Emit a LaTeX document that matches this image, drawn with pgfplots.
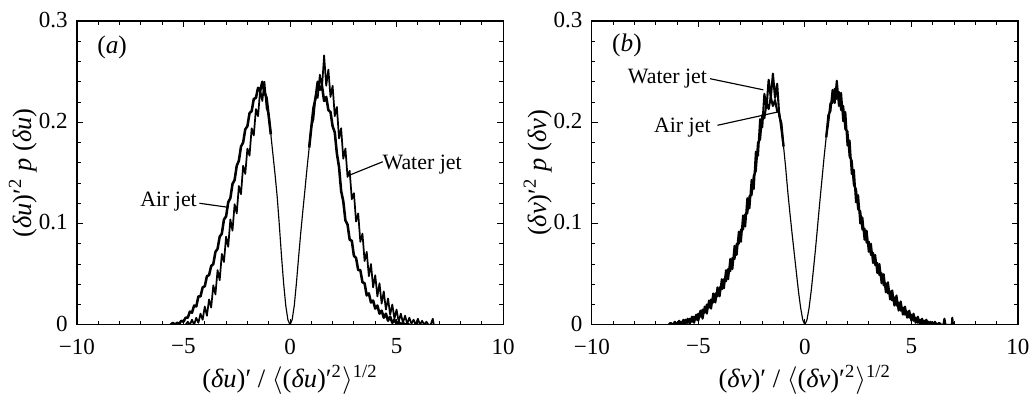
\documentclass[border=0pt]{standalone}
\usepackage{fontspec}
\setmainfont{Liberation Serif}
\usepackage{pgfplots}
\pgfplotsset{compat=1.18}
\pgfplotsset{panel/.style={at={(#1,30.4pt)}, anchor=south west, scale only axis,
  width=185pt, height=131.9pt, xmin=-10, xmax=10, ymin=0, ymax=0.3,
  xtick={-10,-5,0,5,10}, xticklabels={−10,−5,0,5,10},
  ytick={0,0.1,0.2,0.3}, yticklabels={0,0.1,0.2,0.3},
  minor x tick num=4, minor y tick num=4, tick align=inside, tick pos=both,
  major tick length=2.5pt, minor tick length=1.6pt,
  axis line style={line width=0.5pt},
  every tick/.style={black, line width=0.4pt},
  xticklabel style={yshift=-2.5pt},
  yticklabel style={xshift=-0.5pt, yshift=0.5pt},
  xlabel style={at={(axis description cs:0.5,-0.18)}, anchor=center, font=\fontsize{11.5}{13}\selectfont},
  ylabel style={at={(axis description cs:-0.127,0.5)}, anchor=center, font=\fontsize{11.5}{13}\selectfont}},
  crv/.style={black, line width=#1, line join=round, no markers}, crv/.default=0.5pt}
\begin{document}
\begin{tikzpicture}
\useasboundingbox (0,0) rectangle (448pt,171.4pt);
% ---------------- panel (a)
\begin{axis}[panel=33.4pt,
  xlabel={(\textit{δu})′ / $\langle$(\textit{δu})′\textsuperscript{2}$\rangle$\textsuperscript{1/2}},
  ylabel={(\textit{δu})′\textsuperscript{2} \textit{p} (\textit{δu})}]
% common inner part (thin)
\addplot[crv] coordinates {(-0.9,0.188)(-0.8,0.168)(-0.7,0.148)(-0.6,0.126)(-0.5,0.098)(-0.4,0.068)(-0.3,0.041)(-0.2,0.019)(-0.1,0.005)(0,0)(0.1,0.005)(0.2,0.019)(0.3,0.041)(0.4,0.066)(0.5,0.090)(0.6,0.112)(0.7,0.133)(0.8,0.155)(0.9,0.175)};
% Air jet (left, right)
\addplot[crv=1.1pt] coordinates {(-5.6,0.000)(-5.5,0.002)(-5.4,0.000)(-5.3,0.002)(-5.2,0.001)(-5.1,0.004)(-5.0,0.003)(-4.9,0.007)(-4.8,0.007)(-4.7,0.013)(-4.6,0.012)(-4.5,0.019)(-4.4,0.018)(-4.3,0.028)(-4.2,0.028)(-4.1,0.037)(-4.0,0.038)(-3.9,0.048)(-3.8,0.049)(-3.7,0.058)(-3.6,0.060)(-3.5,0.072)(-3.4,0.075)(-3.3,0.087)(-3.2,0.090)(-3.1,0.104)(-3.0,0.107)(-2.9,0.121)(-2.8,0.125)(-2.7,0.139)(-2.6,0.143)(-2.5,0.157)(-2.4,0.162)(-2.3,0.176)(-2.2,0.180)(-2.1,0.193)(-2.0,0.196)(-1.9,0.209)(-1.8,0.211)(-1.7,0.223)(-1.6,0.224)(-1.5,0.234)(-1.4,0.231)(-1.3,0.240)(-1.2,0.230)(-1.1,0.224)(-1.0,0.206)(-0.9,0.188)};
\addplot[crv=1.1pt] coordinates {(0.9,0.175)(1.0,0.195)(1.1,0.214)(1.2,0.224)(1.3,0.240)(1.4,0.232)(1.5,0.236)(1.6,0.221)(1.7,0.225)(1.8,0.212)(1.9,0.210)(2.0,0.196)(2.1,0.190)(2.2,0.169)(2.3,0.156)(2.4,0.132)(2.5,0.122)(2.6,0.103)(2.7,0.099)(2.8,0.084)(2.9,0.083)(3.0,0.068)(3.1,0.066)(3.2,0.054)(3.3,0.054)(3.4,0.042)(3.5,0.041)(3.6,0.029)(3.7,0.031)(3.8,0.022)(3.9,0.024)(4.0,0.016)(4.1,0.019)(4.2,0.011)(4.3,0.014)(4.4,0.007)(4.5,0.011)(4.6,0.004)(4.7,0.008)(4.8,0.002)(4.9,0.005)(5.0,0.001)(5.1,0.003)(5.2,0.000)(5.3,0.002)(5.4,0.000)(5.5,0.001)(5.6,0.000)};
% Water jet (left, right)
\addplot[crv=0.75pt] coordinates {(-4.9,0.000)(-4.8,0.003)(-4.7,0.000)(-4.6,0.005)(-4.5,0.000)(-4.4,0.007)(-4.3,0.002)(-4.2,0.011)(-4.1,0.005)(-4.0,0.018)(-3.9,0.009)(-3.8,0.025)(-3.7,0.017)(-3.6,0.039)(-3.5,0.030)(-3.4,0.054)(-3.3,0.044)(-3.2,0.070)(-3.1,0.062)(-3.0,0.087)(-2.9,0.077)(-2.8,0.104)(-2.7,0.093)(-2.6,0.119)(-2.5,0.110)(-2.4,0.137)(-2.3,0.129)(-2.2,0.157)(-2.1,0.149)(-2.0,0.174)(-1.9,0.167)(-1.8,0.194)(-1.7,0.187)(-1.6,0.213)(-1.5,0.206)(-1.4,0.232)(-1.3,0.221)(-1.2,0.240)(-1.1,0.214)(-1.0,0.208)(-0.9,0.188)};
\addplot[crv=0.75pt] coordinates {(0.9,0.175)(1.0,0.196)(1.1,0.203)(1.2,0.226)(1.3,0.224)(1.4,0.247)(1.5,0.234)(1.6,0.266)(1.7,0.236)(1.8,0.252)(1.9,0.225)(2.0,0.236)(2.1,0.206)(2.2,0.215)(2.3,0.184)(2.4,0.194)(2.5,0.164)(2.6,0.174)(2.7,0.146)(2.8,0.152)(2.9,0.124)(3.0,0.130)(3.1,0.102)(3.2,0.110)(3.3,0.082)(3.4,0.090)(3.5,0.063)(3.6,0.072)(3.7,0.048)(3.8,0.060)(3.9,0.037)(4.0,0.049)(4.1,0.028)(4.2,0.041)(4.3,0.021)(4.4,0.033)(4.5,0.015)(4.6,0.026)(4.7,0.010)(4.8,0.020)(4.9,0.006)(5.0,0.015)(5.1,0.003)(5.2,0.011)(5.3,0.002)(5.4,0.009)(5.5,0.001)(5.6,0.007)(5.7,0.001)(5.8,0.005)(5.9,0.000)(6.0,0.006)(6.1,0.000)(6.2,0.004)(6.3,0.000)(6.4,0.003)(6.5,0.000)(6.6,0.000)(6.7,0.006)(6.75,0.000)};
\node[font=\fontsize{11}{13}\selectfont] at (axis cs:-8.35,0.274) {(\textit{a})};
\node[font=\fontsize{9.5}{11}\selectfont] at (axis cs:-5.7,0.122) {Air jet};
\draw[line width=0.5pt] (axis cs:-4.25,0.120) -- (axis cs:-2.9,0.116);
\node[font=\fontsize{9.5}{11}\selectfont] at (axis cs:6.2,0.158) {Water jet};
\draw[line width=0.5pt] (axis cs:4.35,0.161) -- (axis cs:2.82,0.148);
\end{axis}
% ---------------- panel (b)
\begin{axis}[panel=256.9pt,
  xlabel={(\textit{δv})′ / $\langle$(\textit{δv})′\textsuperscript{2}$\rangle$\textsuperscript{1/2}},
  ylabel={(\textit{δv})′\textsuperscript{2} \textit{p} (\textit{δv})}]
% common inner part (thin)
\addplot[crv] coordinates {(-1.0,0.176)(-0.9,0.155)(-0.8,0.131)(-0.7,0.110)(-0.6,0.090)(-0.5,0.071)(-0.4,0.052)(-0.3,0.033)(-0.2,0.017)(-0.1,0.005)(0,0)(0.1,0.005)(0.2,0.017)(0.3,0.034)(0.4,0.054)(0.5,0.075)(0.6,0.098)(0.7,0.121)(0.8,0.143)(0.9,0.165)(1.0,0.185)};
% Water jet (left, right)
\addplot[crv=0.9pt] coordinates {(-6.4,0.000)(-6.3,0.002)(-6.2,0.000)(-6.1,0.003)(-6.0,0.000)(-5.9,0.004)(-5.8,0.000)(-5.7,0.005)(-5.6,0.001)(-5.5,0.006)(-5.4,0.001)(-5.3,0.008)(-5.2,0.002)(-5.1,0.010)(-5.0,0.004)(-4.9,0.014)(-4.8,0.006)(-4.7,0.018)(-4.6,0.011)(-4.5,0.024)(-4.4,0.016)(-4.3,0.031)(-4.2,0.022)(-4.1,0.037)(-4.0,0.028)(-3.9,0.045)(-3.8,0.036)(-3.7,0.054)(-3.6,0.045)(-3.5,0.065)(-3.4,0.055)(-3.3,0.078)(-3.2,0.069)(-3.1,0.092)(-3.0,0.082)(-2.9,0.108)(-2.8,0.097)(-2.7,0.125)(-2.6,0.115)(-2.5,0.143)(-2.4,0.134)(-2.3,0.171)(-2.2,0.167)(-2.1,0.203)(-2.0,0.195)(-1.9,0.228)(-1.8,0.214)(-1.7,0.242)(-1.6,0.224)(-1.5,0.248)(-1.4,0.224)(-1.3,0.238)(-1.2,0.206)(-1.1,0.199)(-1.0,0.176)};
\addplot[crv=0.9pt] coordinates {(1.0,0.185)(1.1,0.207)(1.2,0.211)(1.3,0.232)(1.4,0.219)(1.5,0.241)(1.6,0.216)(1.7,0.229)(1.8,0.201)(1.9,0.210)(2.0,0.177)(2.1,0.182)(2.2,0.149)(2.3,0.153)(2.4,0.121)(2.5,0.128)(2.6,0.100)(2.7,0.106)(2.8,0.084)(2.9,0.093)(3.0,0.072)(3.1,0.080)(3.2,0.061)(3.3,0.069)(3.4,0.051)(3.5,0.060)(3.6,0.041)(3.7,0.050)(3.8,0.032)(3.9,0.042)(4.0,0.025)(4.1,0.034)(4.2,0.019)(4.3,0.029)(4.4,0.014)(4.5,0.023)(4.6,0.010)(4.7,0.018)(4.8,0.007)(4.9,0.014)(5.0,0.004)(5.1,0.011)(5.2,0.002)(5.3,0.008)(5.4,0.001)(5.5,0.006)(5.6,0.000)(5.7,0.005)(5.8,0.000)(5.9,0.003)(6.0,0.000)(6.1,0.003)(6.2,0.000)(6.3,0.002)(6.4,0.000)(6.9,0.000)(6.92,0.007)(6.95,0.000)};
% Air jet (left, right)
\addplot[crv=0.9pt] coordinates {(-6.1,0.000)(-6.0,0.002)(-5.9,0.000)(-5.8,0.003)(-5.7,0.001)(-5.6,0.005)(-5.5,0.002)(-5.4,0.006)(-5.3,0.003)(-5.2,0.008)(-5.1,0.005)(-5.0,0.011)(-4.9,0.008)(-4.8,0.015)(-4.7,0.012)(-4.6,0.020)(-4.5,0.017)(-4.4,0.025)(-4.3,0.022)(-4.2,0.031)(-4.1,0.028)(-4.0,0.037)(-3.9,0.035)(-3.8,0.045)(-3.7,0.043)(-3.6,0.055)(-3.5,0.053)(-3.4,0.066)(-3.3,0.065)(-3.2,0.080)(-3.1,0.080)(-3.0,0.094)(-2.9,0.094)(-2.8,0.109)(-2.7,0.110)(-2.6,0.127)(-2.5,0.128)(-2.4,0.147)(-2.3,0.152)(-2.2,0.180)(-2.1,0.183)(-2.0,0.207)(-1.9,0.204)(-1.8,0.219)(-1.7,0.213)(-1.6,0.225)(-1.5,0.216)(-1.4,0.222)(-1.3,0.211)(-1.2,0.209)(-1.1,0.193)(-1.0,0.176)};
\addplot[crv=0.9pt] coordinates {(1.0,0.185)(1.1,0.200)(1.2,0.219)(1.3,0.219)(1.4,0.233)(1.5,0.223)(1.6,0.230)(1.7,0.212)(1.8,0.216)(1.9,0.193)(2.0,0.191)(2.1,0.166)(2.2,0.162)(2.3,0.138)(2.4,0.134)(2.5,0.114)(2.6,0.112)(2.7,0.094)(2.8,0.095)(2.9,0.081)(3.0,0.082)(3.1,0.069)(3.2,0.071)(3.3,0.059)(3.4,0.061)(3.5,0.049)(3.6,0.051)(3.7,0.039)(3.8,0.041)(3.9,0.031)(4.0,0.033)(4.1,0.024)(4.2,0.027)(4.3,0.019)(4.4,0.022)(4.5,0.014)(4.6,0.017)(4.7,0.010)(4.8,0.013)(4.9,0.007)(5.0,0.010)(5.1,0.004)(5.2,0.007)(5.3,0.002)(5.4,0.005)(5.5,0.001)(5.6,0.004)(5.7,0.000)(5.8,0.003)(5.9,0.000)(6.0,0.002)(6.1,0.000)(6.5,0.000)(6.55,0.006)(6.6,0.000)};
\node[font=\fontsize{11}{13}\selectfont] at (axis cs:-8.35,0.276) {(\textit{b})};
\node[font=\fontsize{9.5}{11}\selectfont] at (axis cs:-6.45,0.243) {Water jet};
\draw[line width=0.5pt] (axis cs:-4.45,0.243) -- (axis cs:-1.95,0.232);
\node[font=\fontsize{9.5}{11}\selectfont] at (axis cs:-5.75,0.195) {Air jet};
\draw[line width=0.5pt] (axis cs:-4.1,0.197) -- (axis cs:-1.3,0.210);
\end{axis}
\end{tikzpicture}
\end{document}
